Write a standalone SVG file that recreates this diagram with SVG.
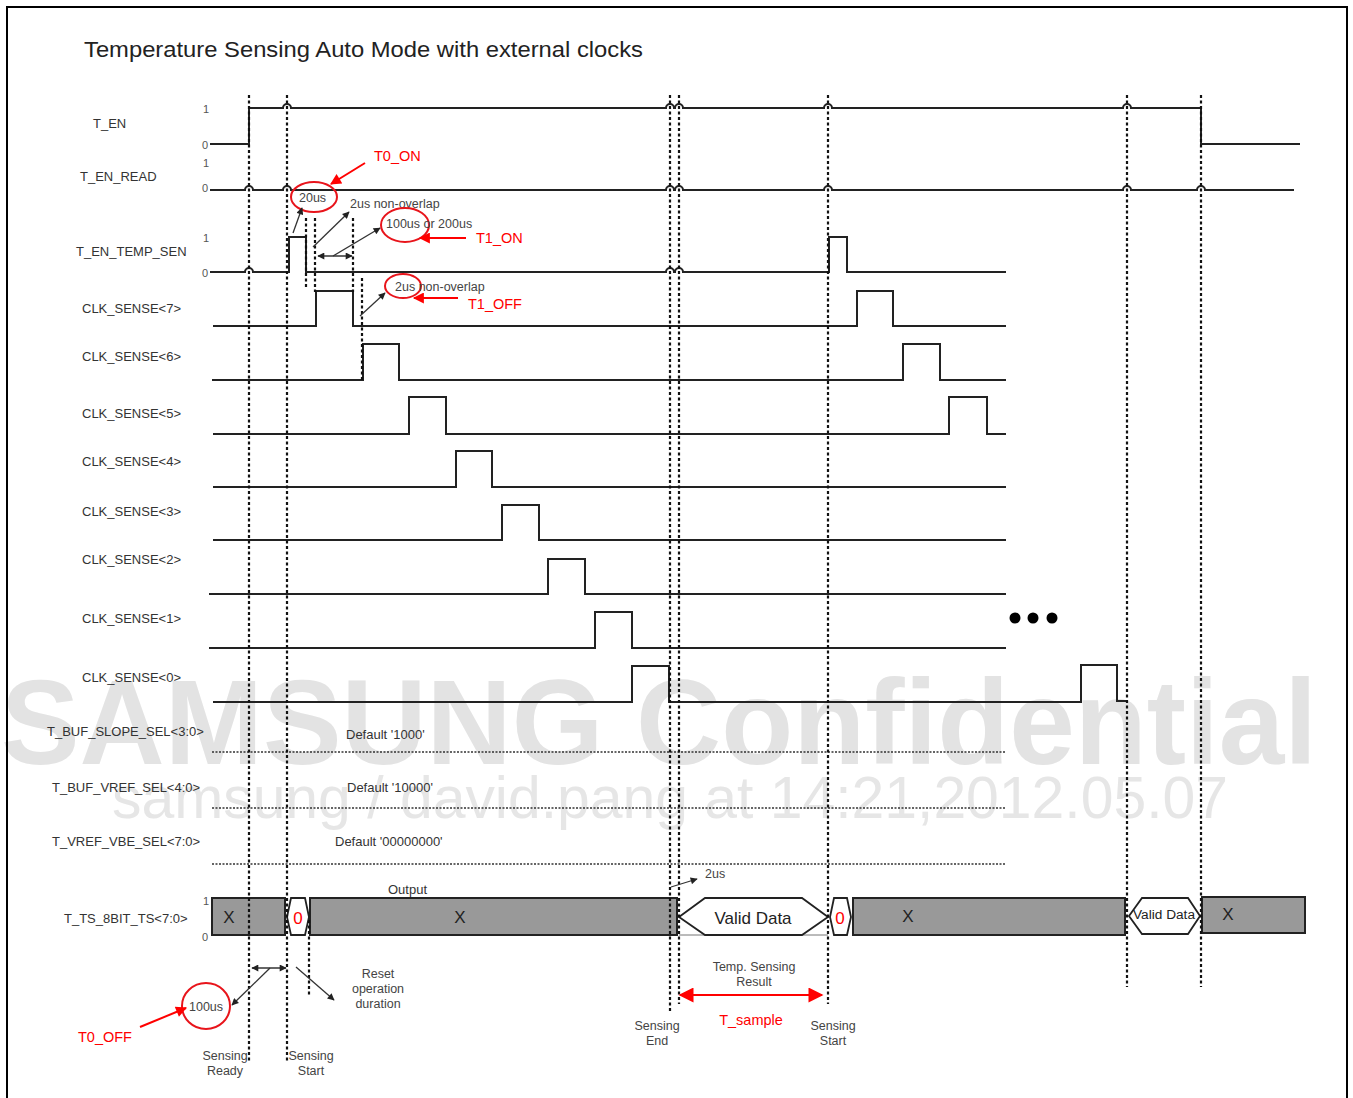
<svg xmlns="http://www.w3.org/2000/svg" width="1353" height="1098" viewBox="0 0 1353 1098">
<defs>
<style>
text{font-family:"Liberation Sans",Arial,sans-serif}
.lbl{font-size:13px;fill:#333}
.lvl{font-size:11px;fill:#555}
.ann{font-size:12.5px;fill:#444}
.annc{font-size:12.5px;fill:#444;text-anchor:middle}
.red{font-size:14.5px;fill:#f00}
.sig{fill:none;stroke:#222;stroke-width:2}
.vd{fill:none;stroke:#111;stroke-width:2.2;stroke-dasharray:3 2.5}
.dot{fill:none;stroke:#333;stroke-width:1.6;stroke-dasharray:2 1.5}
.ell{fill:none;stroke:#e8141b;stroke-width:2}
.box{fill:#999;stroke:#222;stroke-width:2}
.hex{fill:#fff;stroke:#222;stroke-width:1.8}
.ba{stroke:#333;stroke-width:1.3;fill:none}
.ra{stroke:#f00;stroke-width:2;fill:none}
.bx{font-size:17px;fill:#222;text-anchor:middle}
.rz{font-size:17px;fill:#f00;text-anchor:middle}
</style>
<marker id="bh" viewBox="0 0 10 10" refX="9" refY="5" markerWidth="8" markerHeight="7" markerUnits="userSpaceOnUse" orient="auto-start-reverse"><path d="M0,0 L10,5 L0,10 z" fill="#222"/></marker>
<marker id="rh" viewBox="0 0 10 10" refX="9" refY="5" markerWidth="13" markerHeight="11" markerUnits="userSpaceOnUse" orient="auto-start-reverse"><path d="M0,0 L10,5 L0,10 z" fill="#f00"/></marker>
<marker id="rh2" viewBox="0 0 10 10" refX="9" refY="5" markerWidth="16" markerHeight="15" markerUnits="userSpaceOnUse" orient="auto-start-reverse"><path d="M0,0 L10,5 L0,10 z" fill="#f00"/></marker>
</defs>
<rect x="0" y="0" width="1353" height="1098" fill="#fff"/>

<g id="watermark">
<text x="1" y="764" font-size="120" font-weight="bold" fill="#e3e3e3" textLength="1316" lengthAdjust="spacingAndGlyphs">SAMSUNG Confidential</text>
<text x="112" y="818" font-size="59" fill="#e6e6e6" textLength="1116" lengthAdjust="spacingAndGlyphs">samsung / david.pang at 14:21,2012.05.07</text>
</g>

<rect x="7" y="7" width="1340" height="1100" fill="none" stroke="#000" stroke-width="2"/>

<text id="title" x="84" y="57" font-size="22.5" fill="#222" textLength="559" lengthAdjust="spacingAndGlyphs">Temperature Sensing Auto Mode with external clocks</text>

<g id="T_EN">
<text class="lbl" x="93" y="128">T_EN</text>
<text class="lvl" x="203" y="113">1</text><text class="lvl" x="202" y="149">0</text>
<path class="sig" d="M210,144 H249 V108 H283 a4,4 0 0 1 8,0 H666 a4,4 0 0 1 8,0 H675 a4,4 0 0 1 8,0 H824 a4,4 0 0 1 8,0 H1123 a4,4 0 0 1 8,0 H1201 V144 H1300"/>
</g>
<g id="T_EN_READ">
<text class="lbl" x="80" y="181">T_EN_READ</text>
<text class="lvl" x="203" y="167">1</text><text class="lvl" x="202" y="192">0</text>
<path class="sig" d="M210,190 H245 a4,4 0 0 1 8,0 H283 a4,4 0 0 1 8,0 H666 a4,4 0 0 1 8,0 H675 a4,4 0 0 1 8,0 H824 a4,4 0 0 1 8,0 H1123 a4,4 0 0 1 8,0 H1197 a4,4 0 0 1 8,0 H1294"/>
</g>
<g id="T_EN_TEMP_SEN">
<text class="lbl" x="76" y="256">T_EN_TEMP_SEN</text>
<text class="lvl" x="203" y="242">1</text><text class="lvl" x="202" y="277">0</text>
<path class="sig" d="M210,272 H245 a4,4 0 0 1 8,0 H289 V237 H306 V272 H666 a4,4 0 0 1 8,0 H675 a4,4 0 0 1 8,0 H829 V237 H847 V272 H1006"/>
</g>
<g id="CLK_SENSE7">
<text class="lbl" x="82" y="313">CLK_SENSE&lt;7&gt;</text>
<path class="sig" d="M213,326 H316 V291 H353 V326 H857 V291 H893 V326 H1006"/>
</g>
<g id="CLK_SENSE6">
<text class="lbl" x="82" y="361">CLK_SENSE&lt;6&gt;</text>
<path class="sig" d="M212,380 H363 V344 H399 V380 H903 V344 H940 V380 H1006"/>
</g>
<g id="CLK_SENSE5">
<text class="lbl" x="82" y="418">CLK_SENSE&lt;5&gt;</text>
<path class="sig" d="M213,434 H409 V397 H446 V434 H949 V397 H987 V434 H1006"/>
</g>
<g id="CLK_SENSE4">
<text class="lbl" x="82" y="466">CLK_SENSE&lt;4&gt;</text>
<path class="sig" d="M213,487 H456 V451 H492 V487 H1006"/>
</g>
<g id="CLK_SENSE3">
<text class="lbl" x="82" y="516">CLK_SENSE&lt;3&gt;</text>
<path class="sig" d="M213,540 H502 V505 H539 V540 H1006"/>
</g>
<g id="CLK_SENSE2">
<text class="lbl" x="82" y="564">CLK_SENSE&lt;2&gt;</text>
<path class="sig" d="M209,594 H548 V559 H585 V594 H1006"/>
</g>
<g id="CLK_SENSE1">
<text class="lbl" x="82" y="623">CLK_SENSE&lt;1&gt;</text>
<path class="sig" d="M209,648 H595 V612 H632 V648 H1006"/>
</g>
<g id="CLK_SENSE0">
<text class="lbl" x="82" y="682">CLK_SENSE&lt;0&gt;</text>
<path class="sig" d="M213,702 H632 V666 H669 V702 H1081 V665 H1117 V701 H1127"/>
</g>
<g id="ellipsis">
<circle cx="1015" cy="618" r="5.5" fill="#000"/><circle cx="1033" cy="618" r="5.5" fill="#000"/><circle cx="1052" cy="618" r="5.5" fill="#000"/>
</g>

<g id="T_BUF_SLOPE_SEL">
<text class="lbl" x="47" y="736">T_BUF_SLOPE_SEL&lt;3:0&gt;</text>
<text class="lbl" x="346" y="739">Default '1000'</text>
<line class="dot" x1="212" y1="752" x2="1006" y2="752"/>
</g>
<g id="T_BUF_VREF_SEL">
<text class="lbl" x="52" y="792">T_BUF_VREF_SEL&lt;4:0&gt;</text>
<text class="lbl" x="347" y="792">Default '10000'</text>
<line class="dot" x1="212" y1="808" x2="1006" y2="808"/>
</g>
<g id="T_VREF_VBE_SEL">
<text class="lbl" x="52" y="846">T_VREF_VBE_SEL&lt;7:0&gt;</text>
<text class="lbl" x="335" y="846">Default '00000000'</text>
<line class="dot" x1="212" y1="864" x2="1006" y2="864"/>
</g>

<g id="T_TS_8BIT_TS">
<text class="lbl" x="64" y="923">T_TS_8BIT_TS&lt;7:0&gt;</text>
<text class="lvl" x="203" y="905">1</text><text class="lvl" x="202" y="941">0</text>
<text class="lbl" x="388" y="894">Output</text>
<rect class="box" x="212" y="898" width="73" height="37"/>
<text class="bx" x="229" y="923">X</text>
<polygon class="hex" points="287,917 291,898 305,898 309,917 305,935 291,935"/>
<text class="rz" x="298" y="924">0</text>
<rect class="box" x="310" y="898" width="367" height="37"/>
<text class="bx" x="460" y="923">X</text>
<line x1="679" y1="935" x2="828" y2="935" stroke="#777" stroke-width="1"/>
<polygon class="hex" points="679,917 705,898 802,898 828,917 802,935 705,935"/>
<text x="753" y="924" font-size="17" fill="#222" text-anchor="middle">Valid Data</text>
<polygon class="hex" points="830,917 834,898 847,898 851,917 847,935 834,935"/>
<text class="rz" x="840" y="924">0</text>
<rect class="box" x="853" y="898" width="272" height="37"/>
<text class="bx" x="908" y="922">X</text>
<polygon class="hex" points="1129,916 1142,898 1188,898 1200,916 1188,934 1142,934"/>
<text x="1164" y="919" font-size="12" fill="#222" text-anchor="middle" textLength="62" lengthAdjust="spacingAndGlyphs">Valid Data</text>
<rect class="box" x="1202" y="897" width="103" height="36"/>
<text class="bx" x="1228" y="920">X</text>
</g>

<g id="timing-markers">
<line class="vd" x1="249" y1="95" x2="249" y2="1062"/>
<line class="vd" x1="287" y1="95" x2="287" y2="1062"/>
<line class="vd" x1="670" y1="95" x2="670" y2="1012"/>
<line class="vd" x1="679" y1="95" x2="679" y2="1004"/>
<line class="vd" x1="828" y1="95" x2="828" y2="1004"/>
<line class="vd" x1="1127" y1="95" x2="1127" y2="987"/>
<line class="vd" x1="1201" y1="95" x2="1201" y2="987"/>
<line class="vd" x1="306" y1="218" x2="306" y2="287"/>
<line class="vd" x1="315" y1="218" x2="315" y2="292"/>
<line class="vd" x1="353" y1="218" x2="353" y2="292"/>
<line class="vd" x1="362" y1="278" x2="362" y2="380"/>
<line class="vd" x1="309" y1="920" x2="309" y2="997"/>
</g>

<g id="annotations">
<ellipse class="ell" cx="314" cy="197" rx="23" ry="15"/>
<text class="ann" x="299" y="202">20us</text>
<text class="ann" x="350" y="208">2us non-overlap</text>
<ellipse class="ell" cx="405" cy="225" rx="24" ry="17"/>
<text class="ann" x="386" y="228">100us or 200us</text>
<ellipse class="ell" cx="403" cy="286" rx="18" ry="12"/>
<text class="ann" x="395" y="291">2us non-overlap</text>
<text class="red" x="374" y="161">T0_ON</text>
<text class="red" x="476" y="243">T1_ON</text>
<text class="red" x="468" y="309">T1_OFF</text>
<ellipse class="ell" cx="206" cy="1006" rx="24" ry="23"/>
<text class="ann" x="189" y="1011">100us</text>
<text class="red" x="78" y="1042">T0_OFF</text>
<text class="annc" x="378" y="978">Reset</text>
<text class="annc" x="378" y="993">operation</text>
<text class="annc" x="378" y="1008">duration</text>
<text class="annc" x="225" y="1060">Sensing</text>
<text class="annc" x="225" y="1075">Ready</text>
<text class="annc" x="311" y="1060">Sensing</text>
<text class="annc" x="311" y="1075">Start</text>
<text class="annc" x="657" y="1030">Sensing</text>
<text class="annc" x="657" y="1045">End</text>
<text class="annc" x="754" y="971">Temp. Sensing</text>
<text class="annc" x="754" y="986">Result</text>
<text class="annc" x="833" y="1030">Sensing</text>
<text class="annc" x="833" y="1045">Start</text>
<text class="ann" x="705" y="878">2us</text>
<text class="red" x="751" y="1025" text-anchor="middle">T_sample</text>
</g>

<g id="connectors">
<line class="ba" x1="293" y1="233" x2="302" y2="208" marker-end="url(#bh)"/>
<line class="ba" x1="313" y1="247" x2="349" y2="212" marker-end="url(#bh)"/>
<line class="ba" x1="318" y1="256" x2="352" y2="256" marker-start="url(#bh)" marker-end="url(#bh)"/>
<line class="ba" x1="333" y1="256" x2="380" y2="228" marker-end="url(#bh)"/>
<line class="ba" x1="360" y1="316" x2="385" y2="293" marker-end="url(#bh)"/>
<line class="ba" x1="252" y1="968" x2="286" y2="968" marker-start="url(#bh)" marker-end="url(#bh)"/>
<line class="ba" x1="270" y1="968" x2="232" y2="1005" marker-end="url(#bh)"/>
<line class="ba" x1="296" y1="967" x2="334" y2="1000" marker-end="url(#bh)"/>
<line class="ba" x1="671" y1="887" x2="697" y2="879" marker-end="url(#bh)"/>
<line class="ra" x1="365" y1="163" x2="331" y2="184" marker-end="url(#rh)"/>
<line class="ra" x1="466" y1="238" x2="420" y2="238" marker-end="url(#rh)"/>
<line class="ra" x1="458" y1="298" x2="414" y2="298" marker-end="url(#rh)"/>
<line class="ra" x1="140" y1="1027" x2="186" y2="1008" marker-end="url(#rh)"/>
<line class="ra" x1="680" y1="995" x2="822" y2="995" marker-start="url(#rh2)" marker-end="url(#rh2)"/>
</g>
</svg>
